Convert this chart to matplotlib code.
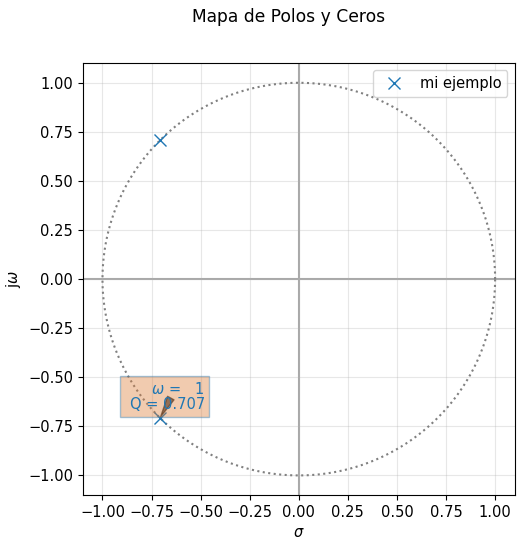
import numpy as np
import matplotlib
matplotlib.use("Agg")
import matplotlib.pyplot as plt

pole_re = [-0.7071, -0.7071]
pole_im = [0.7071, -0.7071]
w0 = 1
q = 0.707
label = "mi ejemplo"
ticks = [-1.0, -0.75, -0.5, -0.25, 0.0, 0.25, 0.5, 0.75, 1.0]

plt.rcParams['font.size'] = 10.5
fig = plt.figure(figsize=(5.21, 5.43), dpi=100)
ax = fig.add_axes([0.159, 0.088, 0.829, 0.796])
fig.suptitle("Mapa de Polos y Ceros", fontsize=12.3, x=0.553, y=0.985)

theta = np.linspace(0, 2 * np.pi, 400)
ax.plot(np.cos(theta), np.sin(theta), ':', color='gray', lw=1.5)
ax.axhline(0, color='darkgray', lw=1.5, zorder=1)
ax.axvline(0, color='darkgray', lw=1.5, zorder=1)
ax.plot(pole_re, pole_im, 'x', color='tab:blue', markersize=9, label=label)

ax.annotate("      $\\omega$ =   {:d}\nQ = {:.3f}".format(w0, q),
            xy=(pole_re[1], pole_im[1]), xycoords='data',
            xytext=(-0.479, -0.598), textcoords='data',
            ha='right', va='center', multialignment='right',
            color='tab:blue', fontsize=10.5, linespacing=1.05,
            bbox=dict(boxstyle='square,pad=0.3', fc='#dc7d39', ec='tab:blue', alpha=0.4),
            arrowprops=dict(arrowstyle='wedge,tail_width=0.5', fc='black', ec='black',
                            alpha=0.6, relpos=(0.58, 0.45), patchA=None,
                            shrinkA=0, shrinkB=1))

ax.set_xlim(-1.1, 1.1)
ax.set_ylim(-1.1, 1.1)
ax.set_aspect('equal')
ax.set_xticks(ticks)
ax.set_yticks(ticks)
ax.grid(True, alpha=0.3)
ax.set_xlabel("$\\sigma$")
ax.set_ylabel("j$\\omega$")
ax.legend(loc='upper right')

fig.savefig("out.png", dpi=100)
